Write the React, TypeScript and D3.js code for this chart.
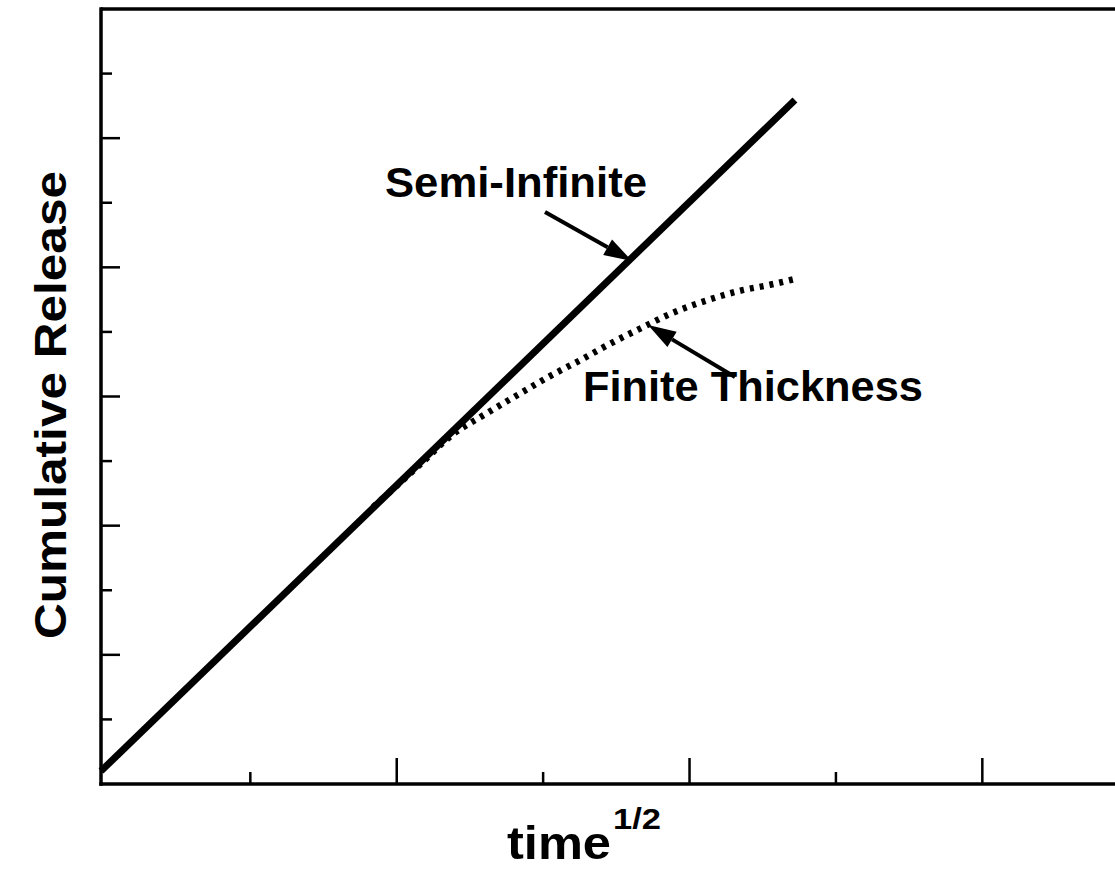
import React from "react";
import * as d3 from "d3";

const W = 1115;
const H = 874;

// time^1/2 axis units (no labels in the original)
const xMajorTicks = [2, 4, 6];
const xMinorTicks = [1, 3, 5];
const yMajorTicks = [2, 4, 6, 8, 10];
const yMinorTicks = [1, 3, 5, 7, 9, 11];

// Semi-infinite release: straight line in sqrt(time)
const semiX = [-0.02, 4.72];
const semiY = [0.2, 10.59];

// Finite thickness release: bends away from the line
const finiteX = [1.84, 2.17, 2.37, 2.6, 2.83, 3.05, 3.26, 3.46, 3.67, 3.89, 4.12, 4.35, 4.55, 4.72];
const finiteY = [4.29, 4.97, 5.39, 5.72, 6.03, 6.32, 6.57, 6.82, 7.06, 7.3, 7.49, 7.64, 7.73, 7.82];

const labels = {
  semi: "Semi-Infinite",
  finite: "Finite Thickness",
  y: "Cumulative Release",
  x: "time",
  xSup: "1/2",
};

export default function App() {
  const left = 101;
  const bottom = 784;
  const top = 9;
  const x = d3.scaleLinear().domain([-0.02, 7]).range([left, left + 7.02 * 146.4]);
  const y = d3.scaleLinear().domain([0, 12]).range([bottom, top]);

  const line = d3
    .line<[number, number]>()
    .x((d) => x(d[0]))
    .y((d) => y(d[1]));
  const curve = d3
    .line<[number, number]>()
    .x((d) => x(d[0]))
    .y((d) => y(d[1]))
    .curve(d3.curveMonotoneX);

  const semiPts: [number, number][] = semiX.map((v, i) => [v, semiY[i]]);
  const finitePts: [number, number][] = finiteX.map((v, i) => [v, finiteY[i]]);

  const font = "'Liberation Sans', Arial, Helvetica, sans-serif";

  const arrow = (x1: number, y1: number, x2: number, y2: number) => {
    const ang = Math.atan2(y2 - y1, x2 - x1);
    const len = 28;
    const half = 9;
    const bx = x2 - len * Math.cos(ang);
    const by = y2 - len * Math.sin(ang);
    const px = -Math.sin(ang) * half;
    const py = Math.cos(ang) * half;
    return (
      <g>
        <line x1={x1} y1={y1} x2={bx} y2={by} stroke="#000" strokeWidth={4} />
        <path d={`M${x2},${y2}L${bx + px},${by + py}L${bx - px},${by - py}Z`} fill="#000" />
      </g>
    );
  };

  return (
    <svg
      width={W}
      height={H}
      style={{ position: "absolute", left: 0, top: 0, background: "#fff" }}
    >
      <rect x={0} y={0} width={W} height={H} fill="#fff" />
      {/* frame */}
      <line x1={left} y1={top} x2={W + 20} y2={top} stroke="#000" strokeWidth={3.5} />
      <line x1={left} y1={top - 1.75} x2={left} y2={bottom + 1.75} stroke="#000" strokeWidth={3.5} />
      <line x1={left - 1.75} y1={bottom} x2={W + 20} y2={bottom} stroke="#000" strokeWidth={3.5} />

      {/* ticks */}
      {yMajorTicks.map((t) => (
        <line key={"ym" + t} x1={left} x2={left + 19} y1={y(t)} y2={y(t)} stroke="#000" strokeWidth={2.5} />
      ))}
      {yMinorTicks.map((t) => (
        <line key={"yn" + t} x1={left} x2={left + 11} y1={y(t)} y2={y(t)} stroke="#000" strokeWidth={2.5} />
      ))}
      {xMajorTicks.map((t) => (
        <line key={"xm" + t} x1={x(t)} x2={x(t)} y1={bottom} y2={bottom - 26} stroke="#000" strokeWidth={2.5} />
      ))}
      {xMinorTicks.map((t) => (
        <line key={"xn" + t} x1={x(t)} x2={x(t)} y1={bottom} y2={bottom - 12} stroke="#000" strokeWidth={2.5} />
      ))}

      {/* data */}
      <path d={curve(finitePts) || ""} fill="none" stroke="#000" strokeWidth={6.5} strokeDasharray="4,6" />
      <path d={line(semiPts) || ""} fill="none" stroke="#000" strokeWidth={7} />

      {/* annotations */}
      <text
        x={385}
        y={197}
        fontFamily={font}
        fontWeight="bold"
        fontSize={42}
        textLength={262}
        lengthAdjust="spacingAndGlyphs"
      >
        {labels.semi}
      </text>
      {arrow(545, 212, 632, 261)}
      <text
        x={583}
        y={401}
        fontFamily={font}
        fontWeight="bold"
        fontSize={42}
        textLength={340}
        lengthAdjust="spacingAndGlyphs"
      >
        {labels.finite}
      </text>
      {arrow(735, 377, 648, 325)}

      {/* axis titles */}
      <text
        transform={`translate(66,405) rotate(-90)`}
        textAnchor="middle"
        fontFamily={font}
        fontWeight="bold"
        fontSize={45}
        textLength={468}
        lengthAdjust="spacingAndGlyphs"
      >
        {labels.y}
      </text>
      <text x={507} y={859} fontFamily={font} fontWeight="bold" fontSize={46} textLength={104} lengthAdjust="spacingAndGlyphs">
        {labels.x}
      </text>
      <text x={613} y={829} fontFamily={font} fontWeight="bold" fontSize={30} textLength={48} lengthAdjust="spacingAndGlyphs">
        {labels.xSup}
      </text>
    </svg>
  );
}
